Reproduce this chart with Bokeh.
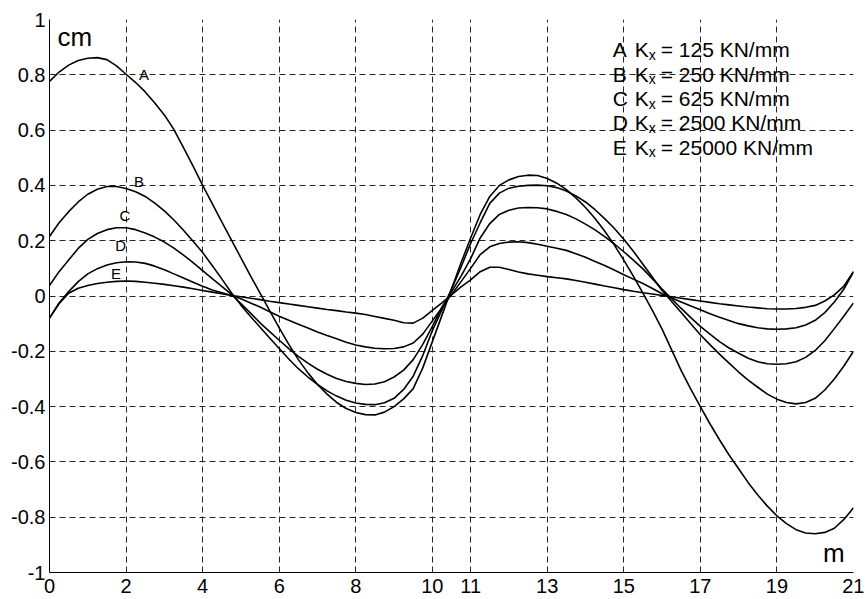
from bokeh.plotting import figure
from bokeh.models import FixedTicker, Range1d
from bokeh.core.properties import value
from bokeh.embed import file_html
from bokeh.resources import INLINE

# ---- data ----
x_m = [i * 0.25 for i in range(85)]  # 0 .. 21 m

curve_A = [0.776, 0.810, 0.835, 0.852, 0.860, 0.862, 0.855, 0.832, 0.802, 0.772,
           0.738, 0.698, 0.655, 0.602, 0.537, 0.470, 0.400, 0.334, 0.268, 0.203,
           0.138, 0.073, 0.010, -0.053, -0.115, -0.175, -0.230, -0.278, -0.320, -0.355,
           -0.385, -0.407, -0.421, -0.429, -0.430, -0.420, -0.400, -0.372, -0.335, -0.260,
           -0.165, -0.070, 0.025, 0.120, 0.210, 0.295, 0.360, 0.400, 0.420, 0.432,
           0.437, 0.436, 0.425, 0.408, 0.385, 0.355, 0.320, 0.280, 0.235, 0.185,
           0.130, 0.072, 0.010, -0.053, -0.120, -0.195, -0.270, -0.337, -0.400, -0.462,
           -0.520, -0.575, -0.625, -0.675, -0.720, -0.760, -0.795, -0.823, -0.845, -0.857,
           -0.860, -0.855, -0.840, -0.808, -0.766]
curve_B = [0.215, 0.265, 0.305, 0.340, 0.368, 0.386, 0.396, 0.396, 0.389, 0.377,
           0.360, 0.336, 0.308, 0.275, 0.238, 0.198, 0.157, 0.110, 0.062, 0.012,
           -0.033, -0.074, -0.113, -0.152, -0.190, -0.228, -0.263, -0.293, -0.320, -0.343,
           -0.362, -0.377, -0.387, -0.392, -0.393, -0.386, -0.370, -0.338, -0.290, -0.215,
           -0.125, -0.050, 0.025, 0.105, 0.190, 0.265, 0.335, 0.372, 0.390, 0.397,
           0.400, 0.401, 0.399, 0.392, 0.380, 0.362, 0.340, 0.312, 0.280, 0.245,
           0.205, 0.162, 0.115, 0.068, 0.020, -0.020, -0.060, -0.100, -0.140, -0.176,
           -0.210, -0.243, -0.275, -0.304, -0.330, -0.355, -0.373, -0.385, -0.390, -0.385,
           -0.370, -0.340, -0.300, -0.253, -0.200]
curve_C = [0.038, 0.088, 0.130, 0.172, 0.205, 0.226, 0.240, 0.247, 0.247, 0.240,
           0.228, 0.213, 0.195, 0.173, 0.148, 0.121, 0.092, 0.063, 0.035, 0.006,
           -0.027, -0.062, -0.097, -0.129, -0.160, -0.190, -0.218, -0.243, -0.265, -0.283,
           -0.298, -0.309, -0.316, -0.320, -0.318, -0.310, -0.293, -0.268, -0.230, -0.175,
           -0.110, -0.040, 0.015, 0.072, 0.135, 0.210, 0.262, 0.295, 0.310, 0.318,
           0.320, 0.319, 0.315, 0.306, 0.295, 0.279, 0.260, 0.239, 0.215, 0.189,
           0.160, 0.130, 0.098, 0.062, 0.025, -0.010, -0.045, -0.078, -0.110, -0.138,
           -0.165, -0.188, -0.207, -0.225, -0.238, -0.245, -0.247, -0.245, -0.238, -0.222,
           -0.197, -0.162, -0.118, -0.072, -0.025]
curve_D = [-0.080, -0.025, 0.016, 0.052, 0.080, 0.099, 0.112, 0.120, 0.124, 0.123,
           0.118, 0.108, 0.095, 0.080, 0.065, 0.050, 0.035, 0.022, 0.012, 0.002,
           -0.010, -0.025, -0.040, -0.057, -0.073, -0.088, -0.102, -0.116, -0.130, -0.143,
           -0.155, -0.167, -0.177, -0.184, -0.189, -0.191, -0.190, -0.184, -0.170, -0.138,
           -0.090, -0.042, 0.005, 0.052, 0.100, 0.150, 0.178, 0.190, 0.195, 0.196,
           0.193, 0.187, 0.180, 0.173, 0.165, 0.153, 0.140, 0.125, 0.110, 0.094,
           0.077, 0.061, 0.045, 0.027, 0.008, -0.007, -0.022, -0.036, -0.050, -0.064,
           -0.077, -0.089, -0.100, -0.108, -0.115, -0.119, -0.120, -0.119, -0.115, -0.105,
           -0.088, -0.060, -0.022, 0.025, 0.088]
curve_E = [-0.080, -0.028, 0.010, 0.028, 0.038, 0.045, 0.050, 0.053, 0.054, 0.053,
           0.050, 0.046, 0.042, 0.037, 0.032, 0.026, 0.020, 0.014, 0.008, 0.002,
           -0.003, -0.008, -0.013, -0.019, -0.024, -0.029, -0.034, -0.039, -0.044, -0.049,
           -0.053, -0.058, -0.062, -0.067, -0.074, -0.081, -0.088, -0.097, -0.098, -0.080,
           -0.052, -0.025, 0.004, 0.033, 0.058, 0.088, 0.104, 0.104, 0.096, 0.087,
           0.080, 0.075, 0.070, 0.066, 0.062, 0.056, 0.050, 0.043, 0.036, 0.030,
           0.023, 0.017, 0.012, 0.007, 0.002, -0.003, -0.008, -0.013, -0.018, -0.023,
           -0.028, -0.032, -0.036, -0.040, -0.043, -0.046, -0.047, -0.047, -0.045, -0.041,
           -0.034, -0.018, 0.004, 0.036, 0.088]

curve_names = ["A", "B", "C", "D", "E"]
kx_values = ["125", "250", "625", "2500", "25000"]

x_ticks = [0, 2, 4, 6, 8, 10, 11, 13, 15, 17, 19, 21]
y_ticks = [-1, -0.8, -0.6, -0.4, -0.2, 0, 0.2, 0.4, 0.6, 0.8, 1]
y_tick_labels = ["-1", "-0.8", "-0.6", "-0.4", "-0.2", "0", "0.2", "0.4", "0.6", "0.8", "1"]

# annotation anchors (data coordinates)
curve_label_x = [2.47, 2.34, 1.97, 1.86, 1.74]
curve_label_y = [0.800, 0.414, 0.291, 0.183, 0.083]
legend_x0 = 14.71
legend_y0 = 0.890
legend_dy = 0.088

FONT = "Liberation Sans"

p = figure(frame_width=804, frame_height=553,
           x_range=Range1d(0, 21), y_range=Range1d(-1, 1),
           output_backend="svg", toolbar_location=None,
           min_border_left=49, min_border_right=11,
           min_border_top=19, min_border_bottom=27)
p.outline_line_color = None
p.background_fill_color = "white"
p.border_fill_color = "white"

# axes
p.xaxis.ticker = FixedTicker(ticks=x_ticks)
p.yaxis.ticker = FixedTicker(ticks=y_ticks)
p.yaxis.major_label_overrides = dict(zip(y_ticks, y_tick_labels))
p.xaxis.major_label_overrides = {t: str(t) for t in x_ticks}
for ax in (p.xaxis, p.yaxis):
    ax.axis_line_color = "black"
    ax.axis_line_width = 1
    ax.major_tick_in = 0
    ax.major_tick_out = 0
    ax.minor_tick_line_color = None
    ax.major_label_text_font = FONT
    ax.major_label_text_font_size = "20px"
    ax.major_label_text_color = "black"
p.xaxis.major_label_standoff = 6
p.yaxis.major_label_standoff = 4

# dashed grid
for g in (p.xgrid, p.ygrid):
    g.grid_line_color = "#262626"
    g.grid_line_dash = "6 4"
    g.grid_line_width = 1

# curves
for ys in (curve_A, curve_B, curve_C, curve_D, curve_E):
    p.line(x_m, ys, line_color="black", line_width=1.6, line_join="round")

# curve labels
p.text(x=curve_label_x, y=curve_label_y, text=curve_names,
       text_font=value(FONT), text_font_size="15px", text_color="black",
       text_align="center", text_baseline="middle")

# legend block (A K_x = 125 KN/mm ...)
leg_y = [legend_y0 - i * legend_dy for i in range(len(curve_names))]
leg_x = [legend_x0] * len(curve_names)
common = dict(text_font=value(FONT), text_color="black", text_baseline="middle")
p.text(x=leg_x, y=leg_y, text=curve_names, text_font_size="21px", **common)
p.text(x=leg_x, y=leg_y, text=["K"] * len(curve_names), x_offset=22,
       text_font_size="21px", **common)
p.text(x=leg_x, y=leg_y, text=["x"] * len(curve_names), x_offset=36, y_offset=5,
       text_font_size="14px", **common)
p.text(x=leg_x, y=leg_y, text=["= " + v + " KN/mm" for v in kx_values], x_offset=48,
       text_font_size="21px", **common)

# unit labels
p.text(x=[0.21], y=[0.9385], text=["cm"], text_font_size="26px", **common)
p.text(x=[20.77], y=[-0.930], text=["m"], text_font_size="26px",
       text_align="right", **common)

open("out.html", "w").write(file_html(p, INLINE))
